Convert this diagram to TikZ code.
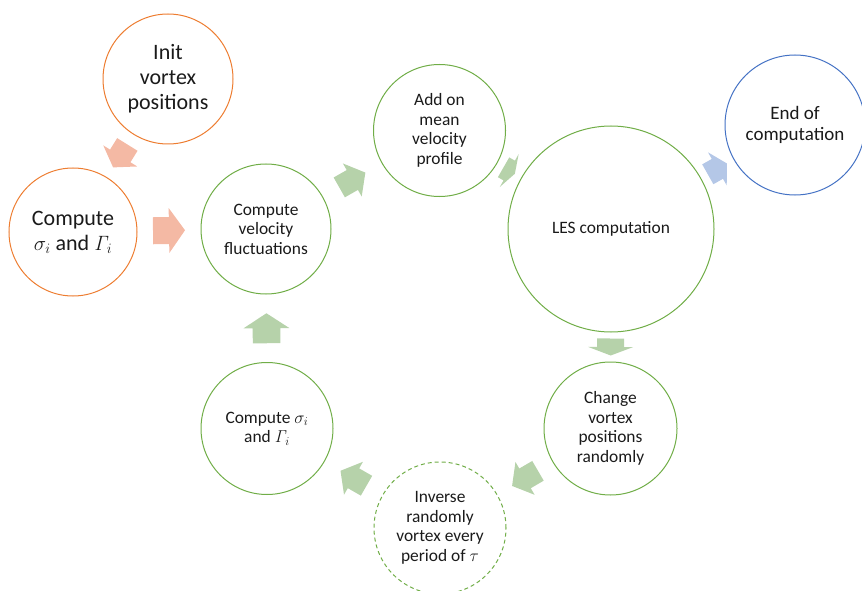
\documentclass[tikz,border=0pt]{standalone}
\usepackage[no-math]{fontspec}
\setmainfont{Carlito}

\definecolor{orline}{HTML}{ED7D31}
\definecolor{orfill}{HTML}{F4B9A4}
\definecolor{grline}{HTML}{70AD47}
\definecolor{grfill}{HTML}{B6D2AA}
\definecolor{blline}{HTML}{4472C4}
\definecolor{blfill}{HTML}{B4C7E7}
\definecolor{txt}{HTML}{1A1A1A}

\tikzset{
	stage/.style={circle,draw,line width=1pt,text=txt,align=center,inner sep=0pt},
	grstage/.style={stage,draw=grline,minimum size=#1,font=\fontsize{17.4}{19.5}\selectfont},
	orstage/.style={stage,draw=orline,minimum size=#1,font=\fontsize{22}{25}\selectfont},
	flow/.style={midway,sloped,allow upside down,fill=#1},
	pics/blockarrow/.style 2 args={code={
		\path[pic actions] ({-#1/2},{-0.3*#2}) -- (0,{-0.3*#2}) -- (0,{-#2/2}) -- ({#1/2},0)
			-- (0,{#2/2}) -- (0,{0.3*#2}) -- ({-#1/2},{0.3*#2}) -- cycle;
	}},
}

\begin{document}
\begin{tikzpicture}[x=1pt,y=-1pt]
	\useasboundingbox (0,0) rectangle (862,591);

	% start
	\node [orstage=130pt] (init) at (168,79) {Init\\vortex\\positions};
	\node [orstage=128pt] (sigmaA) at (73,232) {Compute\\$\sigma_i$ and $\mathit{\Gamma}_i$};

	% loop
	\node [grstage=130pt] (velfluct) at (266,229) {Compute\\velocity\\fluctuations};
	\node [grstage=132pt] (meanprof) at (439.5,130.5) {Add on\\mean\\velocity\\profile};
	\node [grstage=206pt] (les) at (611,229) {LES computation};
	\node [grstage=133pt] (change) at (610.5,428.5) {Change\\vortex\\positions\\randomly};
	\node [grstage=132pt,dashed,dash pattern=on 4pt off 3pt] (inverse) at (440,528) {Inverse\\randomly\\vortex every\\period of $\tau$};
	\node [grstage=132pt] (sigmaB) at (267,428.5) {Compute $\sigma_i$\\and $\mathit{\Gamma}_i$};

	% end
	\node [stage,draw=blline,minimum size=140pt,font=\fontsize{19}{20.7}\selectfont] (endcomp) at (795,125) {End of\\computation};

	\path (init) -- (sigmaA) pic[flow=orfill] {blockarrow={27}{40}};
	\path (sigmaA) -- (velfluct) pic[flow=orfill] {blockarrow={32}{45}};
	\path (velfluct) -- (meanprof) pic[flow=grfill] {blockarrow={30}{38}};
	\path (meanprof) -- (les) pic[flow=grfill] {blockarrow={13}{38}};
	\path (les) -- (endcomp) pic[flow=blfill] {blockarrow={22}{38}};
	\path (les) -- (change) pic[flow=grfill] {blockarrow={17}{45}};
	\path (change) -- (inverse) pic[flow=grfill] {blockarrow={30}{38}};
	\path (inverse) -- (sigmaB) pic[flow=grfill] {blockarrow={30}{38}};
	\path (sigmaB) -- (velfluct) pic[flow=grfill] {blockarrow={30}{46}};
\end{tikzpicture}
\end{document}
